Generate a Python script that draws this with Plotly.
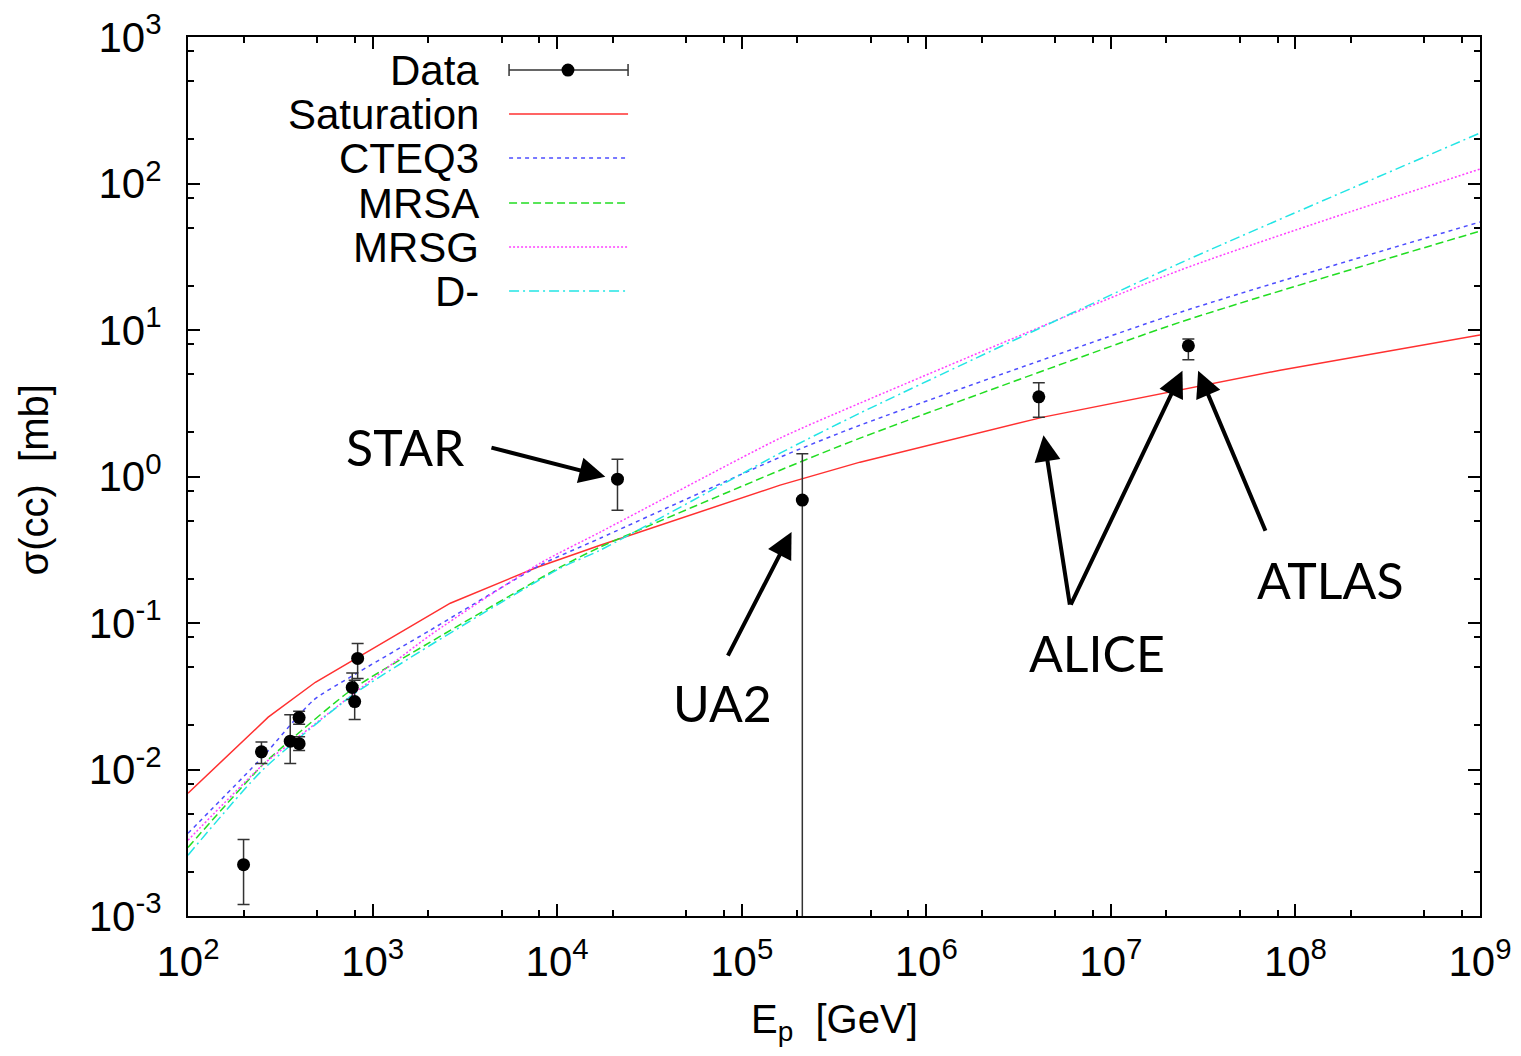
import plotly.graph_objects as go

# ---------------- data ----------------
E_sat = [100, 272, 490, 2636, 7800, 17100, 161500, 437600, 4.30e6, 2.37e7, 8.26e7, 1e9]
sig_sat = [6.89e-3, 0.02275, 0.0394, 0.1365, 0.2404, 0.3398, 0.873, 1.253, 2.543, 3.89, 5.32, 9.23]

E_cteq3 = [100, 252.6, 478, 757, 2054, 8090, 17100, 161500, 437600, 2.37e7, 1e9]
sig_cteq3 = [3.67e-3, 0.01213, 0.0297, 0.0427, 0.0893, 0.248, 0.379, 1.355, 2.24, 13.2, 54.6]

E_mrsa = [100, 252.6, 358, 776, 2054, 10380, 17100, 161500, 437600, 2.37e7, 1e9]
sig_mrsa = [2.94e-3, 0.01069, 0.01585, 0.0353, 0.0740, 0.2404, 0.330, 1.104, 1.828, 11.3, 47.3]

E_mrsg = [100, 252.6, 358, 2054, 8090, 17100, 161500, 437600, 2.37e7, 1e9]
sig_mrsg = [3.29e-3, 0.01069, 0.0151, 0.0826, 0.256, 0.417, 1.828, 3.17, 25.6, 125.5]

E_dm = [100, 252.6, 776, 2054, 10380, 17100, 161500, 437600, 2.37e7, 1e9]
sig_dm = [2.60e-3, 9.88e-3, 0.0321, 0.0705, 0.2366, 0.314, 1.443, 2.71, 28.6, 221]

E_data = [200, 250, 358, 400, 400, 776, 800, 830, 21230, 2.13e5, 4.07e6, 2.63e7]
sig_data = [2.24e-3, 0.0132, 0.0156, 0.0226, 0.0150, 0.0363, 0.0291, 0.0573, 0.959, 0.690, 3.50, 7.80]
sig_hi = [3.33e-3, 0.0154, 0.0236, 0.0250, 0.0167, 0.0456, 0.0406, 0.0724, 1.31, 1.43, 4.36, 8.67]
sig_lo = [1.20e-3, 0.0110, 0.0110, 0.0204, 0.0135, 0.0300, 0.0219, 0.0418, 0.589, 1e-6, 2.54, 6.27]

x_tick_exp = [2, 3, 4, 5, 6, 7, 8, 9]
y_tick_exp = [-3, -2, -1, 0, 1, 2, 3]
minor_digits = [2, 5, 8]

series_names = ["Saturation", "CTEQ3", "MRSA", "MRSG", "D-"]

# experiment labels: text position (log10 E, log10 sigma)
exp_labels = ["STAR", "UA2", "ALICE", "ATLAS"]
exp_text_lx = [3.177, 4.894, 6.926, 8.188]
exp_text_ly = [0.200, -1.548, -1.206, -0.708]
# arrows: head (log10) and tail (log10)
arr_head_lx = [4.261, 5.270, 6.635, 7.388, 7.473]
arr_head_ly = [-0.002, -0.378, 0.282, 0.721, 0.721]
arr_tail_lx = [3.636, 4.921, 6.779, 6.779, 7.841]
arr_tail_ly = [0.200, -1.233, -0.885, -0.885, -0.380]

# ---------------- styles ----------------
FONT = "Liberation Sans"
styles = [
    dict(color="#ff3030", dash="solid", shape="linear"),
    dict(color="#4d4dff", dash="4px,4px", shape="spline"),
    dict(color="#22dd22", dash="8px,4px", shape="spline"),
    dict(color="#ff40ff", dash="2px,2px", shape="spline"),
    dict(color="#22e5e5", dash="10px,4px,2px,4px", shape="spline"),
]
curves = [(E_sat, sig_sat), (E_cteq3, sig_cteq3), (E_mrsa, sig_mrsa),
          (E_mrsg, sig_mrsg), (E_dm, sig_dm)]

fig = go.Figure()
for (xs, ys), st, nm in zip(curves, styles, series_names):
    line = dict(color=st["color"], width=1.5, dash=st["dash"], shape=st["shape"])
    if st["shape"] == "spline":
        line["smoothing"] = 0.6
    fig.add_trace(go.Scatter(x=xs, y=ys, mode="lines", name=nm, showlegend=False, line=line))

err_plus = [h - v for h, v in zip(sig_hi, sig_data)]
err_minus = [v - l for v, l in zip(sig_data, sig_lo)]
fig.add_trace(go.Scatter(
    x=E_data, y=sig_data, mode="markers", name="Data", showlegend=False,
    marker=dict(color="black", size=13),
    error_y=dict(type="data", symmetric=False, array=err_plus, arrayminus=err_minus,
                 color="#333333", thickness=1.5, width=6),
))

# ---------------- axes ----------------
def sup(e):
    return "10<sup>%s</sup>" % ("-%d" % -e if e < 0 else "%d" % e)

x_minor = [d * 10 ** e for e in x_tick_exp[:-1] for d in minor_digits]
y_minor = [d * 10.0 ** e for e in y_tick_exp[:-1] for d in minor_digits]

axis_common = dict(
    type="log", showgrid=False, zeroline=False, showline=True, linecolor="black",
    linewidth=2, mirror="ticks", ticks="inside", ticklen=12, tickwidth=2, automargin=False,
    ticklabeloverflow="allow",
    tickcolor="black", tickfont=dict(family=FONT, size=42, color="black"),
)
fig.update_xaxes(
    **axis_common, range=[2, 9], ticklabelstandoff=8,
    tickmode="array", tickvals=[10 ** e for e in x_tick_exp],
    ticktext=[sup(e) for e in x_tick_exp],
    minor=dict(tickmode="array", tickvals=x_minor, ticks="inside", ticklen=6,
               tickwidth=1.5, tickcolor="black"),
)
fig.update_yaxes(
    **axis_common, range=[-3, 3], ticklabelstandoff=16,
    tickmode="array", tickvals=[10.0 ** e for e in y_tick_exp],
    ticktext=[sup(e) for e in y_tick_exp],
    minor=dict(tickmode="array", tickvals=y_minor, ticks="inside", ticklen=6,
               tickwidth=1.5, tickcolor="black"),
)

# ---------------- annotations ----------------
annotations = [
    dict(x=0.5, y=-0.121, xref="paper", yref="paper", text="E<sub>p</sub>\u00a0\u00a0[GeV]",
         showarrow=False, xanchor="center", yanchor="middle",
         font=dict(family=FONT, size=40, color="black")),
    dict(x=-0.119, y=0.4958, xref="paper", yref="paper", text="\u03c3(cc)\u00a0\u00a0[mb]",
         showarrow=False, xanchor="center", yanchor="middle", textangle=-90,
         font=dict(family=FONT, size=40, color="black")),
]
for t, lx, ly in zip(exp_labels, exp_text_lx, exp_text_ly):
    annotations.append(dict(x=lx, y=ly, xref="x", yref="y", text=t, showarrow=False,
                            font=dict(family="Lato", size=50, color="black"),
                            xanchor="center", yanchor="middle"))
for hx, hy, tx, ty in zip(arr_head_lx, arr_head_ly, arr_tail_lx, arr_tail_ly):
    annotations.append(dict(x=hx, y=hy, ax=tx, ay=ty, xref="x", yref="y", axref="x", ayref="y",
                            text="", showarrow=True, arrowhead=2, arrowsize=1.3,
                            arrowwidth=4, arrowcolor="black", standoff=0, startstandoff=0))

# ---------------- custom gnuplot-style key ----------------
key_names = ["Data"] + series_names
row_y = [0.9624, 0.9124, 0.8623, 0.8111, 0.7610, 0.7109]
text_x = 0.2268
line_x0, line_x1, dot_x = 0.2485, 0.3406, 0.2941
shapes = []
for i, (nm, yy) in enumerate(zip(key_names, row_y)):
    annotations.append(dict(x=text_x, y=yy, xref="paper", yref="paper", text=nm, showarrow=False,
                            xanchor="right", yanchor="middle",
                            font=dict(family=FONT, size=42, color="black")))
    if i == 0:
        shapes.append(dict(type="line", xref="paper", yref="paper", x0=line_x0, x1=line_x1,
                           y0=yy, y1=yy, line=dict(color="#333333", width=1.5)))
        for cx in (line_x0, line_x1):
            shapes.append(dict(type="line", xref="paper", yref="paper", x0=cx, x1=cx,
                               y0=yy - 0.0068, y1=yy + 0.0068, line=dict(color="#333333", width=1.5)))
        shapes.append(dict(type="circle", xref="paper", yref="paper",
                           x0=dot_x - 0.005, x1=dot_x + 0.005, y0=yy - 0.0074, y1=yy + 0.0074,
                           fillcolor="black", line=dict(color="black", width=0)))
    else:
        st = styles[i - 1]
        shapes.append(dict(type="line", xref="paper", yref="paper", x0=line_x0, x1=line_x1,
                           y0=yy, y1=yy, line=dict(color=st["color"], width=1.5, dash=st["dash"])))

# page body has an 8px default margin: shift the plot area by that amount
fig.update_layout(
    width=1521, height=1056, autosize=False,
    margin=dict(l=180, r=49, t=29, b=148),
    paper_bgcolor="white", plot_bgcolor="white",
    annotations=annotations, shapes=shapes, showlegend=False,
)

fig.write_html("out.html")
